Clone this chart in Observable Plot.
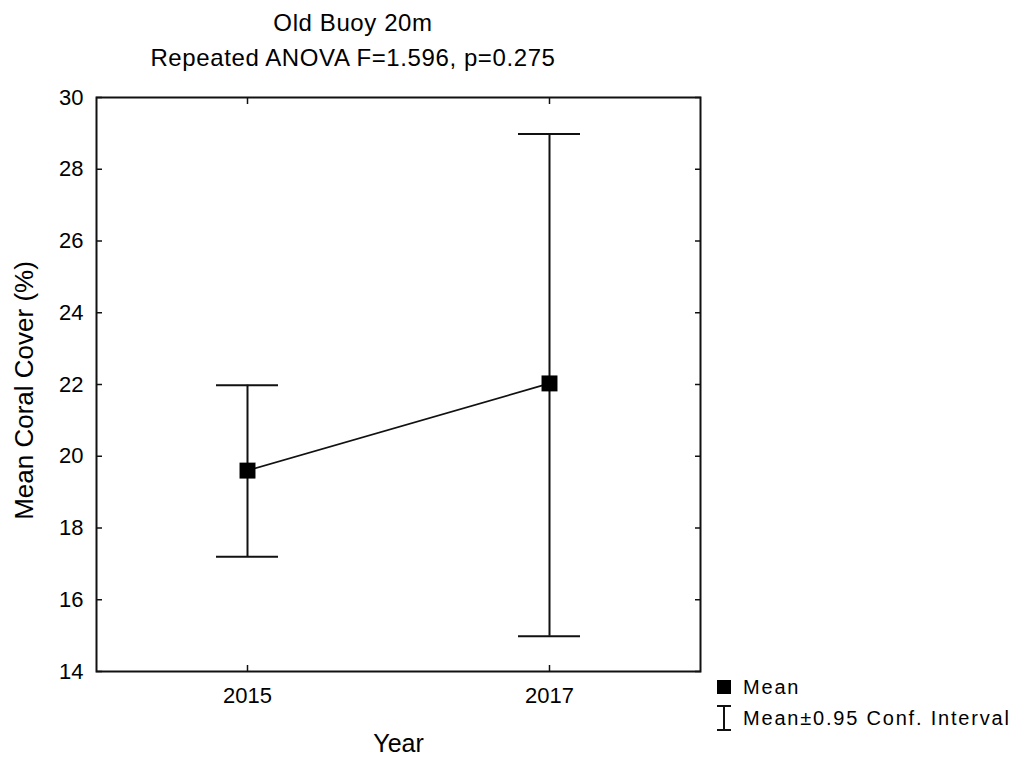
<!DOCTYPE html>
<html>
<head>
<meta charset="utf-8">
<script src="https://cdn.jsdelivr.net/npm/d3@7"></script>
<script src="https://cdn.jsdelivr.net/npm/@observablehq/plot@0.6"></script>
<style>
  html, body { margin: 0; padding: 0; background: #fff; }
  #wrap { position: relative; width: 1022px; height: 759px; font-family: "Liberation Sans", Arial, sans-serif; color: #000; }
  #wrap > svg { position: absolute; left: 0; top: 0; }
  .title { position: absolute; left: 0; width: 706px; text-align: center; font-size: 24px; letter-spacing: 0.6px; white-space: nowrap; }
  .legend { position: absolute; left: 712px; font-size: 20px; letter-spacing: 1.8px; white-space: nowrap; display: flex; align-items: center; }
  .legend svg { margin-right: 7px; }
</style>
</head>
<body>
<div id="wrap">
  <div class="title" style="top:9px;">Old Buoy 20m</div>
  <div class="title" style="top:44px;">Repeated ANOVA F=1.596, p=0.275</div>
</div>
<script>
const years = ["2015", "2017"];
const means = [19.6, 22.03];
const lower = [17.2, 14.98];
const upper = [21.98, 28.98];
const yTicks = [14, 16, 18, 20, 22, 24, 26, 28, 30];
const xLabel = "Year";
const yLabel = "Mean Coral Cover (%)";
const legendLabels = ["Mean", "Mean±0.95 Conf. Interval"];

const data = years.map((y, i) => ({year: y, mean: means[i], lo: lower[i], hi: upper[i]}));

const chart = Plot.plot({
  width: 1022,
  height: 759,
  marginLeft: 96,
  marginRight: 322,
  marginTop: 97,
  marginBottom: 88,
  style: {fontFamily: "'Liberation Sans', Arial, sans-serif", fontSize: "22px", color: "#000", background: "transparent"},
  x: {type: "point", domain: years, padding: 0.5},
  y: {domain: [14, 30], ticks: yTicks},
  marks: [
    Plot.frame({stroke: "#111", strokeWidth: 2}),
    Plot.axisY({anchor: "left", ticks: yTicks, tickSize: -6, tickPadding: 19, label: null, stroke: "#111", strokeWidth: 1.5, fontSize: 22}),
    Plot.axisY({anchor: "right", ticks: yTicks, tickSize: -6, tickFormat: () => "", label: null, stroke: "#111", strokeWidth: 1.5}),
    Plot.axisX({anchor: "bottom", tickSize: -6, tickPadding: 22, label: null, stroke: "#111", strokeWidth: 1.5, fontSize: 22}),
    Plot.axisX({anchor: "top", tickSize: -6, tickFormat: () => "", label: null, stroke: "#111", strokeWidth: 1.5}),
    Plot.ruleX(data, {x: "year", y1: "lo", y2: "hi", stroke: "#111", strokeWidth: 2}),
    Plot.ruleY(data, {x1: "year", x2: "year", y: "hi", insetLeft: -31, insetRight: -31, stroke: "#111", strokeWidth: 2}),
    Plot.ruleY(data, {x1: "year", x2: "year", y: "lo", insetLeft: -31, insetRight: -31, stroke: "#111", strokeWidth: 2}),
    Plot.line(data, {x: "year", y: "mean", stroke: "#111", strokeWidth: 1.7}),
    Plot.dot(data, {x: "year", y: "mean", symbol: "square", r: 9, fill: "#000", stroke: null}),
    Plot.text([xLabel], {frameAnchor: "bottom", text: d => d, dy: 72, fontSize: 25, lineAnchor: "middle"}),
    Plot.text([yLabel], {frameAnchor: "left", text: d => d, rotate: -90, dx: -72, dy: 6, fontSize: 26, letterSpacing: 0.5, lineAnchor: "middle", textAnchor: "middle"})
  ]
});
const wrap = document.getElementById("wrap");
wrap.insertBefore(chart, wrap.firstChild);

// legend
const ns = "http://www.w3.org/2000/svg";
function legendRow(top, label, kind) {
  const row = document.createElement("div");
  row.className = "legend";
  row.style.top = top + "px";
  const s = document.createElementNS(ns, "svg");
  s.setAttribute("width", 24); s.setAttribute("height", 28);
  if (kind === "square") {
    const r = document.createElementNS(ns, "rect");
    r.setAttribute("x", 5); r.setAttribute("y", 7); r.setAttribute("width", 14); r.setAttribute("height", 14);
    r.setAttribute("fill", "#000");
    s.appendChild(r);
  } else {
    const p = document.createElementNS(ns, "path");
    p.setAttribute("d", "M5,2H19M12,2V26M5,26H19");
    p.setAttribute("stroke", "#111"); p.setAttribute("stroke-width", 2); p.setAttribute("fill", "none");
    s.appendChild(p);
  }
  row.appendChild(s);
  const t = document.createElement("span");
  t.textContent = label;
  row.appendChild(t);
  wrap.appendChild(row);
}
legendRow(673, legendLabels[0], "square");
legendRow(704, legendLabels[1], "bar");
</script>
</body>
</html>
